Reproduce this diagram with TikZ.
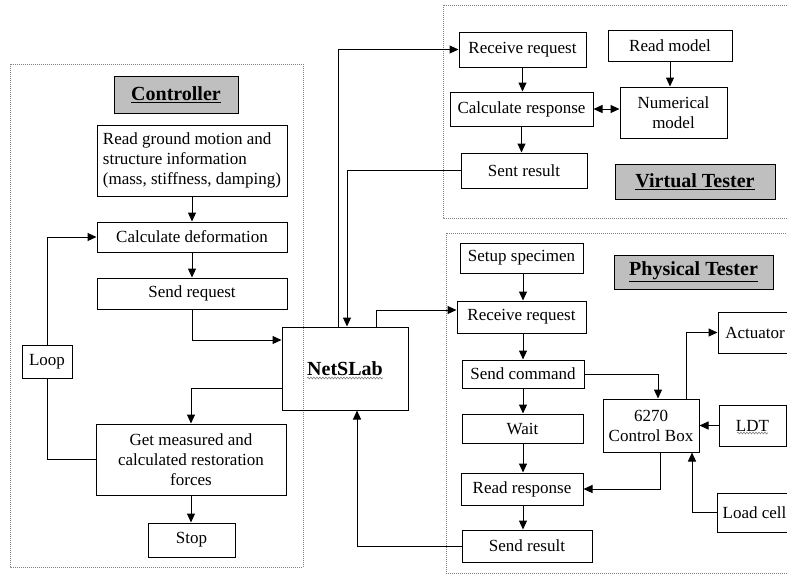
\documentclass[tikz,border=0pt]{standalone}
\usepackage{fontspec}
\setmainfont{Liberation Serif}
\usetikzlibrary{arrows.meta,decorations.pathmorphing}
\newcommand\mybox[7][box]{\node[#1,minimum width={(#5-#3)*1pt},minimum height={(#6-#4)*1pt}] (#2) at ({(#3+#5)/2},{(#4+#6)/2}) {#7};}
\begin{document}
\begin{tikzpicture}[x=1pt,y=-1pt,
  box/.style={draw, line width=1pt, inner sep=0pt, font=\fontsize{17}{20}\selectfont, align=center},
  title/.style={box, fill=gray!50, font=\fontsize{20}{24}\selectfont\bfseries},
  arr/.style={-{Triangle[length=9pt,width=8pt]}, line width=1pt},
  darr/.style={{Triangle[length=9pt,width=8pt]}-{Triangle[length=9pt,width=8pt]}, line width=1pt},
  ln/.style={line width=1pt},
  zone/.style={draw=gray, dash pattern=on 1pt off 1pt, line width=0.8pt},
  squig/.style={draw=gray, line width=0.6pt, decorate, decoration={snake,amplitude=0.9pt,segment length=3pt}}]
\useasboundingbox (0,0) rectangle (787,574);
\clip (0,0) rectangle (787,574);
% zones
\draw[zone] (10,64) rectangle (303,567);
\draw[zone] (443,5) rectangle (800,218);
\draw[zone] (446,233) rectangle (800,573);
% controller
\mybox[title]{tctrl}{114}{76}{238}{113}{\underline{Controller}}
\mybox[box,align=left]{readg}{97}{125}{287}{196}{Read ground motion and\\structure information\\(mass, stiffness, damping)}
\mybox{calcdef}{97}{222}{287}{252}{Calculate deformation}
\mybox{sendreq}{97}{278}{287}{309}{Send request}
\mybox{loop}{22}{345}{72}{378}{Loop}
\mybox{getm}{96}{424}{286}{495}{Get measured and\\calculated restoration\\forces}
\mybox{stop}{148}{523}{235}{557}{Stop}
\mybox[box,font=\fontsize{20}{24}\selectfont\bfseries]{netslab}{282}{327}{408}{410}{NetSLab}
% virtual tester
\mybox{vrecv}{459}{32}{586}{67}{Receive request}
\mybox{readm}{608}{30}{732}{61}{Read model}
\mybox{vcalc}{450}{92}{593}{126}{Calculate response}
\mybox{numm}{620}{87}{727}{138}{Numerical\\model}
\mybox{vsent}{461}{153}{587}{188}{Sent result}
\mybox[title]{tvirt}{615}{164}{775}{199}{\underline{Virtual Tester}}
% physical tester
\mybox{setup}{460}{243}{583}{273}{Setup specimen}
\mybox[title]{tphys}{614}{255}{773}{289}{\underline{Physical Tester}}
\mybox{precv}{457}{301}{586}{333}{Receive request}
\mybox{pcmd}{462}{360}{584}{388}{Send command}
\mybox{wait}{462}{414}{583}{443}{Wait}
\mybox{pread}{461}{473}{583}{505}{Read response}
\mybox{psend}{462}{530}{592}{562}{Send result}
\mybox{ctrlbox}{603}{399}{699}{452}{6270\\Control Box}
\mybox{act}{718}{312}{792}{353}{Actuator}
\mybox{ldt}{719}{405}{786}{446}{LDT}
\mybox{loadc}{717}{493}{792}{532}{Load cell}
% spell-check squiggles
\draw[squig] (307,378) -- (383,378);
\draw[squig] (737,433) -- (768,433);
% helper coordinates
\coordinate (x338) at (338,0);
\coordinate (x347) at (347,0);
\coordinate (x357) at (357,0);
\coordinate (x376) at (376,0);
\coordinate (y340) at (0,340);
\coordinate (y388) at (0,388);
\coordinate (y310) at (0,310);
\coordinate (px) at (523,0);
\coordinate (x658) at (658,0);
\coordinate (x686) at (686,0);
\coordinate (x692) at (692,0);
\coordinate (x660) at (660,0);
% controller connectors
\draw[arr] (readg.south) -- (calcdef.north);
\draw[arr] (calcdef.south) -- (sendreq.north);
\draw[arr] (loop.north) |- (calcdef.west);
\draw[ln] (loop.south) |- (getm.west);
\draw[arr] (sendreq.south) |- (netslab.west |- y340);
\draw[arr] (netslab.west |- y388) -| (getm.north);
\draw[arr] (getm.south) -- (stop.north -| getm.south);
% netslab links
\draw[arr] (psend.west) -| (netslab.south -| x357);
\draw[arr] (netslab.north -| x338) |- (vrecv.west);
\draw[arr] (vsent.west) -| (netslab.north -| x347);
\draw[arr] (netslab.north -| x376) |- (precv.west |- y310);
% virtual connectors
\draw[arr] (vrecv.south) -- (vcalc.north -| vrecv.south);
\draw[arr] (vcalc.south) -- (vsent.north -| vcalc.south);
\draw[arr] (readm.south) -- (numm.north -| readm.south);
\draw[darr] (vcalc.east) -- (numm.west |- vcalc.east);
% physical connectors
\draw[arr] (setup.south -| px) -- (precv.north -| px);
\draw[arr] (precv.south -| px) -- (pcmd.north -| px);
\draw[arr] (pcmd.south -| px) -- (wait.north -| px);
\draw[arr] (wait.south -| px) -- (pread.north -| px);
\draw[arr] (pread.south -| px) -- (psend.north -| px);
\draw[arr] (pcmd.east) -| (ctrlbox.north -| x658);
\draw[arr] (ctrlbox.north -| x686) |- (act.west);
\draw[arr] (ldt.west) -- (ctrlbox.east |- ldt.west);
\draw[arr] (loadc.west) -| (ctrlbox.south -| x692);
\draw[arr] (ctrlbox.south -| x660) |- (pread.east);
\end{tikzpicture}
\end{document}
